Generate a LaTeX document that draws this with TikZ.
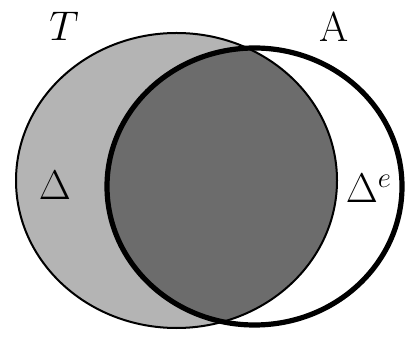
\documentclass[tikz,border=0pt]{standalone}
\usepackage{amsmath,amssymb}
\usepackage{tikz}
\usepackage{xcolor}
\definecolor{ink}{RGB}{0,0,0}
\definecolor{shadeT}{RGB}{180,180,180}
\definecolor{shadeTA}{RGB}{108,108,108}
\tikzset{
  setT/.style={draw=ink,line width=1pt},
  setA/.style={draw=ink,line width=2.6pt},
  lbl/.style={inner sep=0pt,font=\fontsize{21}{24}\selectfont},
}

\begin{document}
\begin{tikzpicture}[x=0.5pt,y=0.5pt]
  \useasboundingbox (0,0) rectangle (405,336);
  % regions
  \fill[shadeT] (176.5,155.5) ellipse [x radius=160.5,y radius=147.5];
  \begin{scope}
    \clip (254.5,149.5) ellipse [x radius=147.5,y radius=138.5];
    \fill[shadeTA] (176.5,155.5) ellipse [x radius=160.5,y radius=147.5];
  \end{scope}
  % outlines
  \draw[setT] (176.5,155.5) ellipse [x radius=160.5,y radius=147.5];
  \draw[setA] (254.5,149.5) ellipse [x radius=147.5,y radius=138.5];
  % labels
  \node[lbl] (t) at (64,310) {$T$};
  \node[lbl] (a) at (334,309) {A};
  \node[lbl] (d) at (55,151) {$\Delta$};
  \node[lbl] (de) at (369,148) {$\Delta^{e}$};
\end{tikzpicture}
\end{document}
